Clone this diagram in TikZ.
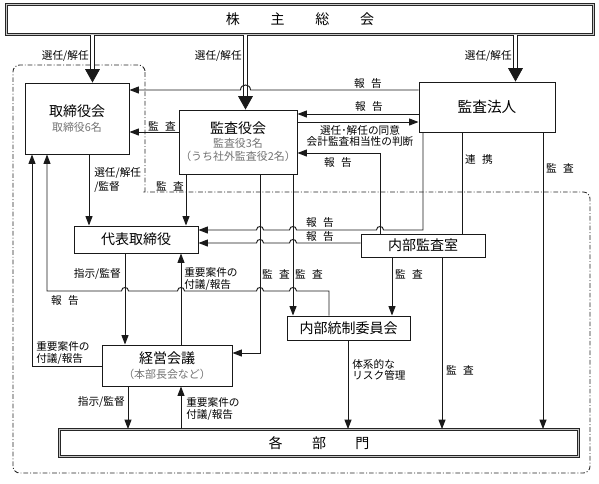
\documentclass[tikz,border=0pt]{standalone}
\usepackage{fontspec}
\setmainfont{Noto Sans CJK JP}
\usetikzlibrary{arrows.meta}
\newcommand\jgap{\hspace{0.6em}}
\newcommand\titlef{\fontsize{10.5pt}{12pt}\selectfont}
\newcommand\hop[2]{-- (#1+3.5,#2) .. controls (#1+3.5,#2-4.7) and (#1-3.5,#2-4.7) .. (#1-3.5,#2)}
\tikzset{
 ln/.style={draw=black!90, line width=0.7pt},
 arr/.style={ln, -{Triangle[length=7pt,width=5.2pt]}},
 bigarr/.style={draw=black!90, fill=black!90, line width=0.6pt, -{Triangle[length=10pt,width=11pt]}},
 dbl/.style={draw=black!90, double=white, double distance=1.7pt, line width=0.7pt},
 box/.style={draw=black!90, fill=white, line width=0.7pt, inner sep=0pt, align=center},
 wh/.style 2 args={minimum width=#1*0.75pt, minimum height=#2*0.75pt},
 big/.style={box, draw=black!85, double=gray!45, double distance=1.3pt, line width=0.65pt},
 lbl/.style={inner sep=0pt, font=\fontsize{8pt}{9pt}\selectfont, align=left},
 subtxt/.style={font=\fontsize{8.2pt}{9.75pt}\selectfont, text=black!55},
 bounds/.style={draw=black!85, line width=0.65pt, dash pattern=on 3.5pt off 1.5pt on 0.7pt off 1.5pt},
}
\begin{document}
\begin{tikzpicture}[x=0.75pt,y=-0.75pt]
\useasboundingbox (0,0) rectangle (599,483);
% region boundary
\draw[bounds] (145,192) -- (145,70) [rounded corners=5pt] -- (145,65) -- (13,65) -- (13,473) -- (590,473) -- (590,192) -- (150,192) [sharp corners] -- (145,192);
% boxes
\node[big, wh={587}{30}, font=\titlef] (soukai) at (300,19.5) {株\hspace{2.2em}主\hspace{2.2em}総\hspace{2.2em}会};
\node[big, wh={519}{27}, font=\titlef] (kakubu) at (319,443) {各\hspace{2.1em}部\hspace{2.1em}門};
\node[box, subtxt, wh={104}{71}] (tori) at (77,118.5) {{\titlef\color{black}取締役会}\\[1.5pt]取締役6名};
\node[box, subtxt, wh={118}{64}] (kansayaku) at (238,142) {{\titlef\color{black}監査役会}\\[0.75pt]監査役3名\\（うち社外監査役2名）};
\node[box, wh={136}{50}, font=\fontsize{11pt}{12pt}\selectfont] (hojin) at (487,107) {監査法人};
\node[box, wh={124}{27}, font=\titlef] (daihyo) at (136,239.5) {代表取締役};
\node[box, wh={124}{23}, font=\titlef] (naibu) at (423,245.5) {内部監査室};
\node[box, wh={123}{24}, font=\titlef] (tosei) at (348.5,328) {内部統制委員会};
\node[box, subtxt, wh={130}{41}] (keiei) at (167,365.5) {{\titlef\color{black}経営会議}\\[1.5pt]（本部長会など）};
% shareholders' meeting arrows
\draw[dbl] (92.5,0 |- soukai.south) -- (92.5,70.5);
\draw[bigarr] (92.5,69) -- (92.5,0 |- tori.north);
\draw[dbl] (245.5,0 |- soukai.south) -- (245.5,97.5);
\draw[bigarr] (245.5,96) -- (245.5,0 |- kansayaku.north);
\draw[dbl] (515.5,0 |- soukai.south) -- (515.5,69.5);
\draw[bigarr] (515.5,68) -- (515.5,0 |- hojin.north);
\node[lbl, anchor=east] (l1) at (89,56) {選任/解任};
\node[lbl, anchor=east] (l2) at (242,56) {選任/解任};
\node[lbl, anchor=east] (l3) at (512,56) {選任/解任};
% audit corporation reports
\draw[arr] (hojin.west |- 0,90) -- (250.5,90) .. controls (250.5,83.3) and (240.5,83.3) .. (240.5,90) -- (tori.east |- 0,90);
\node[lbl] (l4) at (368,83) {報\jgap 告};
\draw[arr] (hojin.west |- 0,114) -- (kansayaku.east |- 0,114);
\node[lbl] (l5) at (369,106) {報\jgap 告};
\draw[arr] (kansayaku.east |- 0,122) -- (hojin.west |- 0,122);
\node[lbl, align=center, font=\fontsize{8pt}{8.4pt}\selectfont] (l6) at (360,136) {選任･解任の同意\\会計監査相当性の判断};
\draw[arr] (380,0 |- naibu.north) -- (380,153) -- (kansayaku.east |- 0,153);
\node[lbl] (l7) at (338,162) {報\jgap 告};
% board audit
\draw[arr] (kansayaku.west |- 0,132) -- (tori.east |- 0,132);
\node[lbl] (l8) at (162,126) {監\jgap 査};
\draw[arr] (186,0 |- kansayaku.south) -- (186,0 |- daihyo.north);
\node[lbl] (l9) at (170,186) {監\jgap 査};
\draw[arr] (89,0 |- tori.south) -- (89,0 |- daihyo.north);
\node[lbl, anchor=west, font=\fontsize{8pt}{10.5pt}\selectfont] (l10) at (94,180) {選任/解任\\/監督};
% reports to representative director
\draw[arr] (423,0 |- hojin.south) -- (423,230) \hop{380}{230} \hop{293}{230} \hop{260}{230} -- (daihyo.east |- 0,230);
\node[lbl] (l11) at (320,222) {報\jgap 告};
\draw[arr] (naibu.west |- 0,243) \hop{293}{243} \hop{260}{243} -- (daihyo.east |- 0,243);
\node[lbl] (l12) at (320,236) {報\jgap 告};
% cooperation and audits by audit corporation
\draw[ln] (462,0 |- hojin.south) -- (462,0 |- naibu.north);
\node[lbl] (l13) at (479,159) {連\jgap 携};
\draw[arr] (543,0 |- hojin.south) -- (543,0 |- kakubu.north);
\node[lbl] (l14) at (560,168) {監\jgap 査};
% audit by audit & supervisory board
\draw[arr] (260,0 |- kansayaku.south) -- (260,353) -- (keiei.east |- 0,353);
\draw[arr] (293,0 |- kansayaku.south) -- (293,0 |- tosei.north);
\node[lbl] (l15) at (276,274) {監\jgap 査};
\node[lbl] (l16) at (309,274) {監\jgap 査};
% internal control committee report
\draw[arr] (329,0 |- tosei.north) -- (329,291) \hop{293}{291} \hop{260}{291} \hop{181}{291} \hop{125}{291} -- (47,291) -- (47,0 |- tori.south);
\node[lbl] (l17) at (65,300) {報\jgap 告};
% management meeting to board
\draw[arr] (keiei.west |- 0,366) -- (32,366) -- (32,0 |- tori.south);
\node[lbl, anchor=west] (l18) at (36,353) {重要案件の\\付議/報告};
% representative director <-> management meeting
\draw[arr] (125,0 |- daihyo.south) -- (125,0 |- keiei.north);
\node[lbl, anchor=east] (l19) at (121,274) {指示/監督};
\draw[arr] (181,0 |- keiei.north) -- (181,0 |- daihyo.south);
\node[lbl, anchor=west] (l20) at (184,279) {重要案件の\\付議/報告};
% management meeting <-> departments
\draw[arr] (128,0 |- keiei.south) -- (128,0 |- kakubu.north);
\node[lbl, anchor=east] (l21) at (125,402) {指示/監督};
\draw[arr] (181,0 |- kakubu.north) -- (181,0 |- keiei.south);
\node[lbl, anchor=west] (l22) at (186,409) {重要案件の\\付議/報告};
% internal audit office
\draw[arr] (392,0 |- naibu.south) -- (392,0 |- tosei.north);
\node[lbl] (l23) at (409,274) {監\jgap 査};
\draw[arr] (442,0 |- naibu.south) -- (442,0 |- kakubu.north);
\node[lbl] (l24) at (460,370) {監\jgap 査};
% internal control committee to departments
\draw[arr] (348,0 |- tosei.south) -- (348,0 |- kakubu.north);
\node[lbl, anchor=west, font=\fontsize{8pt}{8.4pt}\selectfont] (l25) at (352,370) {体系的な\\リスク管理};
\end{tikzpicture}
\end{document}
